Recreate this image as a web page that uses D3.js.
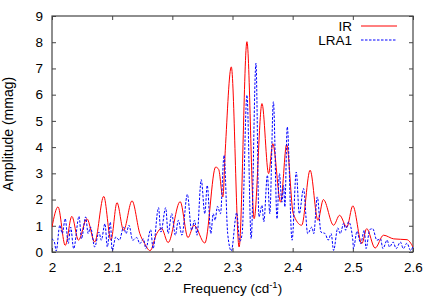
<!DOCTYPE html>
<html lang="en">
<head>
	<meta charset="utf-8">
	<title>Amplitude spectrum</title>
	<script src="https://cdn.jsdelivr.net/npm/d3@7"></script>
	<style>
		body { margin: 0; background: #fff; }
		text { font-family: "Liberation Sans", Arial, sans-serif; fill: #000; }
	</style>
</head>
<body>
<div id="chart"></div>
<script type="text/javascript">

	// Tick values for both axes
	var xTicks = [2, 2.1, 2.2, 2.3, 2.4, 2.5, 2.6];
	var yTicks = [0, 1, 2, 3, 4, 5, 6, 7, 8, 9];

	// Series names
	var seriesNames = ["IR", "LRA1"];

	// IR amplitude spectrum
	var irFreq = [2.000, 2.010, 2.022, 2.033, 2.044, 2.058, 2.071, 2.086, 2.098, 2.108,
		2.119, 2.133, 2.146, 2.154, 2.163, 2.174, 2.182, 2.193, 2.213, 2.226,
		2.236, 2.254, 2.272, 2.277, 2.284, 2.288, 2.298, 2.311, 2.324, 2.336,
		2.349, 2.360, 2.367, 2.380, 2.390, 2.401, 2.415, 2.429, 2.442, 2.451,
		2.468, 2.478, 2.490, 2.500, 2.515, 2.523, 2.537, 2.551, 2.568, 2.590, 2.600];
	var irAmp = [0.95, 1.72, 0.25, 1.36, 0.45, 1.27, 0.38, 2.12, 0.45, 1.88,
		0.83, 1.95, 0.70, 0.32, 0.05, 0.70, 0.90, 0.36, 1.92, 0.55,
		1.02, 0.34, 3.24, 3.15, 2.10, 3.88, 7.06, 0.19, 8.02, 1.27,
		5.66, 2.99, 4.13, 1.90, 4.10, 1.46, 1.02, 3.12, 1.21, 2.00,
		1.02, 1.40, 0.95, 1.76, 0.32, 0.89, 0.15, 0.64, 0.50, 0.47, 0.19];

	// LRA1 amplitude spectrum
	var lraFreq = [2.000, 2.004, 2.007, 2.013, 2.017, 2.022, 2.027, 2.031, 2.036, 2.045,
		2.049, 2.056, 2.060, 2.064, 2.071, 2.078, 2.082, 2.088, 2.092, 2.097,
		2.100, 2.106, 2.112, 2.119, 2.123, 2.128, 2.134, 2.141, 2.146, 2.152,
		2.156, 2.164, 2.168, 2.177, 2.181, 2.189, 2.193, 2.199, 2.205, 2.210,
		2.216, 2.225, 2.232, 2.237, 2.241, 2.248, 2.254, 2.258, 2.264, 2.268,
		2.271, 2.275, 2.280, 2.286, 2.292, 2.298, 2.307, 2.312, 2.316, 2.324,
		2.331, 2.339, 2.344, 2.349, 2.352, 2.358, 2.362, 2.368, 2.374, 2.378,
		2.382, 2.385, 2.387, 2.391, 2.399, 2.406, 2.411, 2.418, 2.425, 2.432,
		2.435, 2.441, 2.447, 2.454, 2.459, 2.464, 2.468, 2.475, 2.479, 2.485,
		2.488, 2.493, 2.500, 2.501, 2.507, 2.513, 2.519, 2.522, 2.528, 2.533,
		2.540, 2.546, 2.550, 2.557, 2.561, 2.567, 2.572, 2.579, 2.584, 2.590,
		2.596, 2.600];
	var lraAmp = [0.50, 0.38, 0.04, 1.02, 0.70, 1.27, 0.32, 0.95, 0.13, 1.36,
		0.50, 1.34, 0.70, 0.95, 0.19, 0.76, 0.45, 1.08, 0.19, 1.14,
		0.06, 0.57, 0.45, 0.95, 0.70, 1.02, 0.45, 0.55, 0.32, 0.50,
		0.13, 0.85, 0.13, 1.69, 0.76, 1.69, 0.70, 1.46, 0.64, 1.21,
		0.64, 2.20, 0.83, 1.21, 0.64, 2.76, 1.46, 2.54, 0.70, 1.46,
		1.21, 1.74, 1.46, 3.69, 0.70, 0.04, 1.50, 0.40, 0.70, 5.98,
		0.51, 7.20, 1.34, 1.78, 1.15, 2.93, 1.46, 5.73, 1.27, 2.99,
		1.90, 2.54, 1.72, 4.77, 0.45, 3.05, 1.46, 2.42, 0.70, 0.95,
		0.70, 2.10, 0.76, 0.70, 0.45, 0.70, 0.06, 0.92, 0.70, 1.10,
		0.83, 1.15, 0.45, 0.13, 0.79, 0.32, 0.83, 0.13, 0.85, 0.89,
		0.45, 0.50, 0.13, 0.45, 0.19, 0.38, 0.13, 0.38, 0.13, 0.34,
		0.06, 0.22];

	// Define margins
	var margin = {top: 16, right: 23, bottom: 53, left: 52};
	var outer_width = 436;
	var outer_height = 305;
	var width = outer_width - margin.left - margin.right;
	var height = outer_height - margin.top - margin.bottom;

	var svg = d3.select("#chart")
		.append("svg")
		.attr("width", outer_width)
		.attr("height", outer_height)
		.append("g")
		.attr("transform", "translate(" + margin.left + "," + margin.top + ")");

	// Scales
	var xScale = d3.scaleLinear().domain([2, 2.6]).range([0, width]);
	var yScale = d3.scaleLinear().domain([0, 9]).range([height, 0]);

	var tickLen = 4;
	var borderColor = "#444";
	var lraDash = "2.5,1.5";

	// Bottom axis (ticks point inward), labels below
	var xAxis = d3.axisBottom(xScale)
		.tickValues(xTicks)
		.tickSizeInner(-tickLen)
		.tickSizeOuter(0)
		.tickPadding(10)
		.tickFormat(d3.format("~g"));
	var gx = svg.append("g")
		.attr("transform", "translate(0," + height + ")")
		.call(xAxis);

	// Top axis, ticks only
	var gxTop = svg.append("g")
		.call(d3.axisTop(xScale).tickValues(xTicks).tickSizeInner(-tickLen).tickSizeOuter(0).tickFormat(""));

	// Left axis
	var yAxis = d3.axisLeft(yScale)
		.tickValues(yTicks)
		.tickSizeInner(-tickLen)
		.tickSizeOuter(0)
		.tickPadding(9);
	var gy = svg.append("g").call(yAxis);

	// Right axis, ticks only
	var gyRight = svg.append("g")
		.attr("transform", "translate(" + width + ",0)")
		.call(d3.axisRight(yScale).tickValues(yTicks).tickSizeInner(-tickLen).tickSizeOuter(0).tickFormat(""));

	// style all axes like gnuplot
	[gx, gxTop, gy, gyRight].forEach(function(g) {
		g.select(".domain").remove();
		g.selectAll(".tick line").attr("stroke", borderColor);
		g.selectAll("text")
			.style("font-family", "'Liberation Sans', Arial, sans-serif")
			.style("font-size", "13.5px")
			.attr("fill", "#000");
	});

	// Border box
	svg.append("rect")
		.attr("x", 0)
		.attr("y", 0)
		.attr("width", width)
		.attr("height", height)
		.attr("fill", "none")
		.attr("stroke", borderColor)
		.attr("stroke-width", 1.2);

	// Clip lines to the plot area
	svg.append("clipPath")
		.attr("id", "clip")
		.append("rect")
		.attr("width", width)
		.attr("height", height);

	var line = d3.line()
		.x(function(d) { return xScale(d[0]); })
		.y(function(d) { return yScale(d[1]); })
		.curve(d3.curveMonotoneX);

	var irData = irFreq.map(function(f, i) { return [f, irAmp[i]]; });
	var lraData = lraFreq.map(function(f, i) { return [f, lraAmp[i]]; });

	// IR (red, solid)
	svg.append("path")
		.datum(irData)
		.attr("clip-path", "url(#clip)")
		.attr("d", line)
		.attr("fill", "none")
		.attr("stroke", "#ff0000")
		.attr("stroke-width", 1);

	// LRA1 (blue, dashed)
	svg.append("path")
		.datum(lraData)
		.attr("clip-path", "url(#clip)")
		.attr("d", line)
		.attr("fill", "none")
		.attr("stroke", "#0000ff")
		.attr("stroke-width", 1)
		.attr("stroke-dasharray", lraDash);

	// Legend
	var legend = svg.append("g");
	var legendStyles = [
		{color: "#ff0000", dash: null},
		{color: "#0000ff", dash: lraDash}
	];
	seriesNames.forEach(function(name, i) {
		var ly = 10 + i * 14;
		legend.append("text")
			.attr("x", 300)
			.attr("y", ly)
			.attr("dy", "0.35em")
			.attr("text-anchor", "end")
			.style("font-size", "13.5px")
			.text(name);
		legend.append("line")
			.attr("x1", 309)
			.attr("x2", 345)
			.attr("y1", ly)
			.attr("y2", ly)
			.attr("stroke", legendStyles[i].color)
			.attr("stroke-width", 1)
			.attr("stroke-dasharray", legendStyles[i].dash);
	});

	// Axis titles
	var xTitle = svg.append("text")
		.attr("x", width / 2)
		.attr("y", height + 41)
		.attr("text-anchor", "middle")
		.style("font-size", "13.5px");
	xTitle.append("tspan").text("Frequency (cd");
	xTitle.append("tspan").attr("dy", "-5").style("font-size", "9.5px").text("-1");
	xTitle.append("tspan").attr("dy", "5").text(")");

	svg.append("text")
		.attr("transform", "translate(" + (-39) + "," + (height / 2) + ") rotate(-90)")
		.attr("text-anchor", "middle")
		.style("font-size", "14px")
		.text("Amplitude (mmag)");

</script>
</body>
</html>
